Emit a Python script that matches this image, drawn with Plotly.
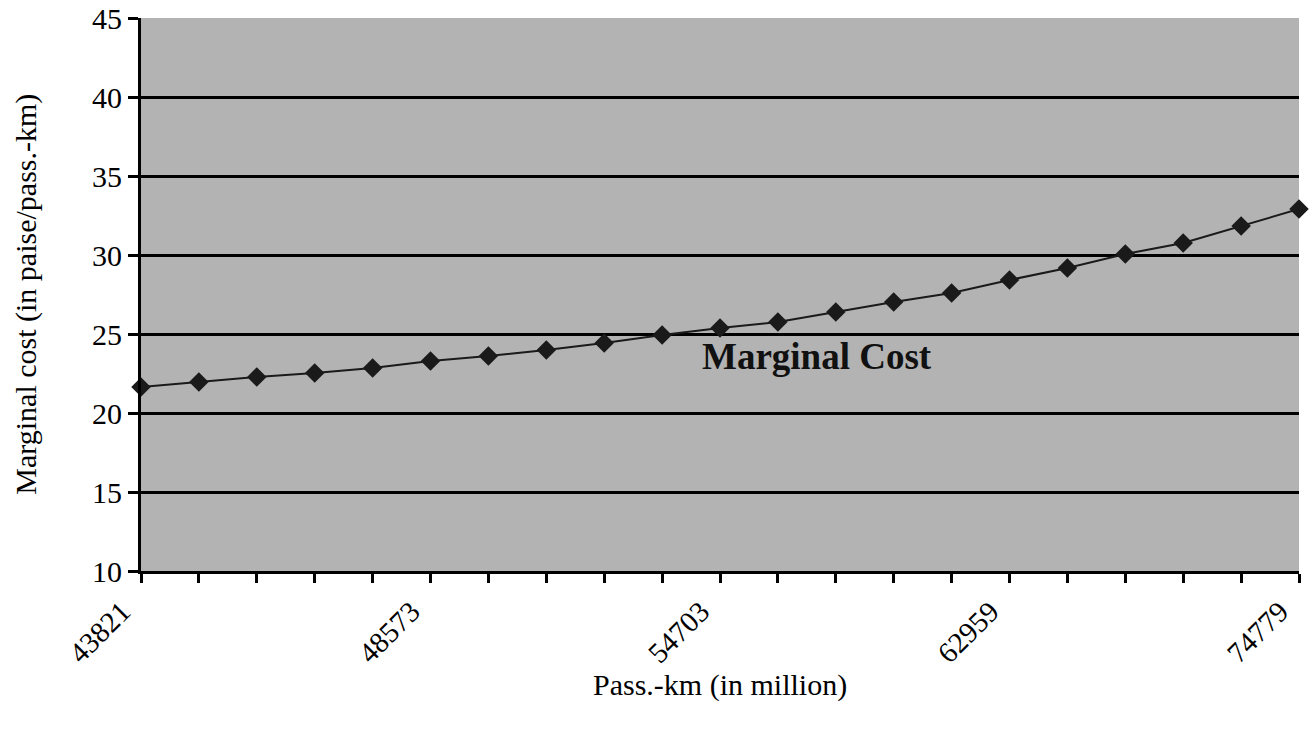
import plotly.graph_objects as go

# Passenger-km (million) and the marginal cost at each level
pass_km = ["43821", "44730", "45660", "46610", "47580", "48573", "49740", "50940",
           "52170", "53420", "54703", "56260", "57860", "59500", "61200", "62959",
           "65160", "67440", "69800", "72250", "74779"]
marginal_cost = [21.65, 21.96, 22.28, 22.53, 22.85, 23.29, 23.60, 23.99, 24.43, 24.94,
                 25.38, 25.76, 26.39, 27.03, 27.59, 28.42, 29.18, 30.06, 30.76, 31.84, 32.91]
labelled_ticks = ["43821", "48573", "54703", "62959", "74779"]
y_ticks = [10, 15, 20, 25, 30, 35, 40, 45]

serif = "Liberation Serif, Times New Roman, serif"

fig = go.Figure()
fig.add_trace(go.Scatter(
    x=pass_km, y=marginal_cost, mode="lines+markers",
    line=dict(color="#1a1a1a", width=2),
    marker=dict(symbol="diamond", size=15, color="#1a1a1a"),
    cliponaxis=False, showlegend=False,
))

fig.add_annotation(
    x=0.584, y=23.6, xref="paper", yref="y", text="<b>Marginal Cost</b>",
    showarrow=False, font=dict(family=serif, size=37, color="#111"),
)

# axis titles placed in paper coordinates
fig.add_annotation(
    x=0.5, y=-0.207, xref="paper", yref="paper", yanchor="middle",
    text="Pass.-km (in million)", showarrow=False,
    font=dict(family=serif, size=30, color="black"),
)
fig.add_annotation(
    x=-0.1, y=0.5, xref="paper", yref="paper", xanchor="center", textangle=-90,
    text="Marginal cost (in paise/pass.-km)", showarrow=False,
    font=dict(family=serif, size=30, color="black"),
)

fig.update_layout(
    width=1312, height=730,
    margin=dict(l=141, r=13, t=18, b=159),
    paper_bgcolor="white", plot_bgcolor="#b3b3b3",
    font=dict(family=serif, color="black"),
    xaxis=dict(
        type="category", range=[0, len(pass_km) - 1], automargin=False,
        tickmode="array", tickvals=pass_km,
        ticktext=[v if v in labelled_ticks else "" for v in pass_km],
        tickangle=-45, tickfont=dict(size=29, family=serif),
        ticklabelstandoff=0, ticklabelshift=-19,
        ticks="outside", ticklen=9, tickwidth=3, tickcolor="black",
        showline=True, linecolor="black", linewidth=3,
        showgrid=False, zeroline=False,
    ),
    yaxis=dict(
        range=[10, 45], tickmode="array", tickvals=y_ticks, automargin=False,
        tickfont=dict(size=30, family=serif),
        ticks="outside", ticklen=10, tickwidth=3, tickcolor="black",
        showline=True, linecolor="black", linewidth=3,
        showgrid=True, gridcolor="black", gridwidth=3, zeroline=False,
    ),
)

fig.write_html("out.html")
